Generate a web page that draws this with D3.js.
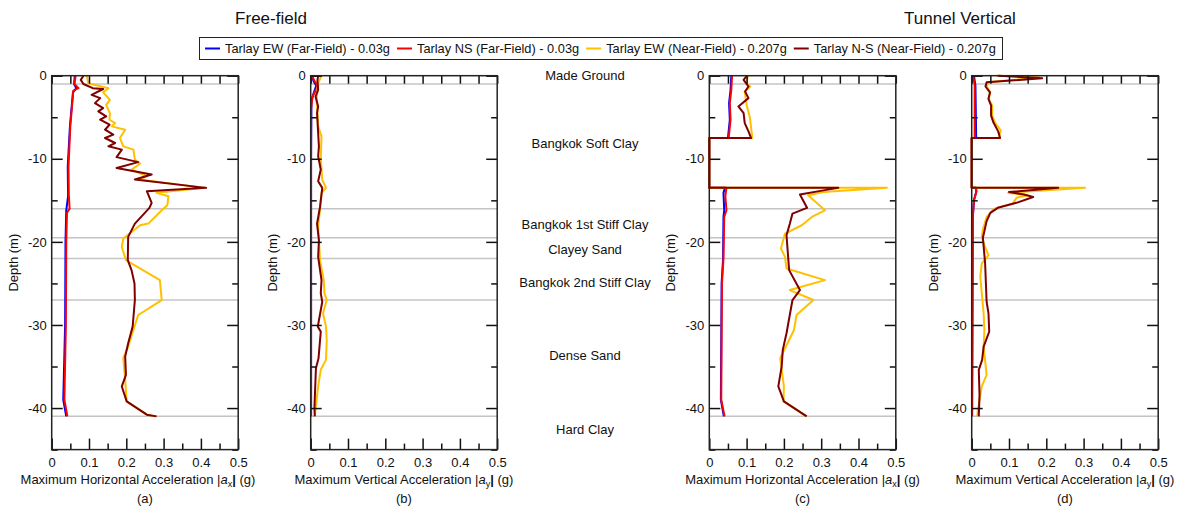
<!DOCTYPE html>
<html>
<head>
<meta charset="utf-8">
<script src="https://cdn.jsdelivr.net/npm/d3@7"></script>
<style>
  body { margin: 0; background: #fff; }
  text { font-family: "Liberation Sans", Arial, sans-serif; fill: #111; }
</style>
</head>
<body>
<svg id="chart"></svg>
<script>
const width = 1184, height = 510;

// series labels and colours (legend order)
const seriesNames = [
    "Tarlay EW (Far-Field) - 0.03g",
    "Tarlay NS (Far-Field) - 0.03g",
    "Tarlay EW (Near-Field) - 0.207g",
    "Tarlay N-S (Near-Field) - 0.207g"
];
const seriesColors = ["#0000ff", "#ff0000", "#ffc000", "#7f0000"];

// profiles: [depth (m), max acceleration (g)]
// (a) free-field, horizontal
const aEWfar = [[0,0.062],[1.0,0.060],[1.5,0.066],[2,0.057],[6,0.049],[11,0.043],[14.5,0.044],[16.2,0.039],[20,0.037],[30,0.036],[39,0.031],[41,0.039]];
const aNSfar = [[0,0.064],[1.0,0.061],[1.5,0.072],[1.8,0.058],[6,0.050],[11,0.045],[14.5,0.046],[16,0.048],[16.5,0.041],[20,0.039],[30,0.038],[39,0.034],[41,0.042]];
const aEWnear = [[0,0.094],[0.9,0.098],[1.5,0.152],[2,0.138],[2.9,0.156],[3.5,0.146],[4.5,0.156],[5.3,0.155],[5.7,0.17],[6.1,0.161],[6.5,0.197],[7.5,0.183],[8.5,0.192],[8.9,0.219],[10.1,0.223],[10.6,0.237],[11.3,0.214],[12.1,0.255],[12.5,0.235],[13.5,0.41],[14.1,0.281],[14.5,0.313],[15.6,0.31],[16.2,0.295],[17.8,0.259],[18,0.237],[19.6,0.192],[20.6,0.188],[22.2,0.199],[24.6,0.29],[27,0.295],[28.8,0.232],[30.6,0.219],[32.6,0.205],[34,0.192],[36.6,0.197],[39.2,0.201],[40.8,0.255],[41,0.281]];
const aNSnear = [[0,0.085],[0.5,0.078],[1.0,0.085],[1.5,0.11],[1.6,0.138],[2.3,0.107],[2.7,0.13],[3.3,0.116],[3.9,0.138],[4.3,0.125],[4.9,0.146],[5.3,0.13],[5.9,0.155],[6.5,0.143],[7.1,0.165],[7.5,0.143],[8.1,0.17],[8.5,0.152],[8.9,0.188],[9.8,0.174],[10.4,0.232],[11.1,0.174],[11.9,0.268],[12.5,0.223],[13.5,0.414],[13.9,0.255],[15.3,0.268],[15.9,0.262],[17.8,0.223],[19.4,0.205],[22.2,0.204],[23.4,0.214],[25,0.222],[27,0.223],[30.2,0.217],[32.2,0.205],[33.8,0.197],[36,0.199],[37.4,0.188],[39.2,0.201],[40.8,0.255],[41,0.281]];

// (b) free-field, vertical
const bEWfar = [[0,0.003],[0.7,0.008],[1.2,0.015],[2.1,0.008],[3,0.002],[10,0.001],[41,0.001]];
const bNSfar = [[0,0.003],[0.7,0.011],[1.2,0.02],[2.5,0.005],[4,0.001],[41,0.001]];
const bEWnear = [[0,0.029],[1,0.019],[2.9,0.016],[6.1,0.02],[7.3,0.029],[10.1,0.027],[12.5,0.031],[13.5,0.041],[14.1,0.029],[16.1,0.025],[18.1,0.02],[22.2,0.025],[24.6,0.035],[26.2,0.037],[27,0.043],[28.6,0.033],[30.2,0.041],[31.8,0.043],[34.2,0.041],[35.4,0.027],[37.4,0.02],[41,0.011]];
const bNSnear = [[0,0.02],[0.6,0.018],[1.7,0.02],[2.5,0.013],[3.7,0.02],[4.5,0.017],[6.1,0.019],[8.5,0.022],[9.7,0.02],[11.3,0.027],[12.7,0.02],[13.5,0.031],[15.8,0.025],[17.8,0.017],[19.8,0.022],[21.8,0.02],[24.6,0.029],[26.2,0.027],[27.2,0.031],[30.2,0.019],[30.8,0.027],[34,0.021],[35.2,0.014],[40,0.01],[41,0.011]];

// (c) tunnel, horizontal
const cEWfar = [[0,0.059],[1.7,0.057],[3.3,0.053],[5.3,0.055],[7.5,0.05],[7.5,0],[13.5,0],[13.5,0.042],[14.1,0.038],[16.2,0.04],[17,0.038],[22,0.037],[25,0.033],[39,0.031],[41,0.039]];
const cNSfar = [[0,0.061],[1.7,0.059],[3.3,0.055],[5.3,0.057],[7.5,0.052],[7.5,0],[13.5,0],[13.5,0.046],[14.5,0.043],[16.2,0.046],[17,0.04],[22,0.038],[25,0.034],[39,0.032],[41,0.041]];
const cEWnear = [[0,0.103],[1.0,0.1],[1.3,0.11],[1.9,0.095],[3.5,0.1],[5.1,0.109],[7.4,0.115],[7.5,0.115],[7.5,0],[13.5,0],[13.5,0.476],[14,0.306],[14.4,0.265],[16.2,0.31],[17,0.275],[18,0.248],[19,0.203],[20.8,0.192],[21.8,0.203],[23.2,0.207],[24.6,0.31],[25.8,0.216],[27,0.279],[28.8,0.234],[30.6,0.227],[34,0.19],[37.4,0.2],[39.2,0.199],[41,0.261]];
const cNSnear = [[0,0.101],[0.5,0.092],[1.3,0.105],[1.9,0.096],[2.7,0.105],[3.7,0.078],[4.5,0.092],[5.7,0.095],[6.7,0.105],[7.5,0.112],[7.5,0],[13.5,0],[13.5,0.346],[13.8,0.306],[14.3,0.243],[15.9,0.262],[16.6,0.223],[17.8,0.216],[19.2,0.207],[22.2,0.212],[23.4,0.214],[25.8,0.243],[27,0.223],[31,0.207],[33,0.197],[35,0.194],[37.4,0.185],[39.2,0.2],[41,0.261]];

// (d) tunnel, vertical
const dEWfar = [[0,0.006],[1.2,0.01],[7.5,0.012],[7.5,0],[13.5,0],[13.5,0.012],[14,0.012],[15,0.006],[17,0.003],[41,0.001]];
const dNSfar = [[0,0.004],[1.2,0.008],[7.5,0.008],[7.5,0],[13.5,0],[13.5,0.01],[13.9,0.013],[15,0.006],[17,0.003],[41,0.001]];
const dEWnear = [[0,0.067],[0.2,0.18],[0.8,0.045],[1.3,0.04],[2,0.05],[2.8,0.045],[3.6,0.055],[4.8,0.055],[5.6,0.062],[6.6,0.078],[7.2,0.074],[7.5,0.074],[7.5,0],[13.5,0],[13.5,0.304],[14.1,0.098],[14.4,0.15],[14.7,0.12],[15.4,0.11],[16,0.06],[17,0.04],[18.5,0.03],[19.4,0.027],[20.5,0.035],[21.6,0.045],[22.6,0.027],[24.2,0.023],[28.6,0.032],[30.6,0.034],[32.6,0.032],[36,0.04],[37.4,0.027],[40.4,0.016],[41,0.015]];
const dNSnear = [[0,0.071],[0.3,0.189],[0.8,0.04],[1.3,0.037],[2,0.049],[2.8,0.045],[3.6,0.052],[4.8,0.052],[5.6,0.058],[6.7,0.071],[7.5,0.076],[7.5,0],[13.5,0],[13.5,0.232],[14.0,0.10],[14.3,0.14],[14.6,0.165],[15.3,0.12],[15.9,0.07],[16.5,0.05],[17.5,0.04],[18.5,0.035],[19.5,0.03],[22.6,0.036],[27.2,0.04],[28.6,0.045],[30.8,0.047],[32.6,0.032],[34.2,0.028],[35.4,0.019],[38.4,0.021],[41,0.019]];

// soil layers
const layerBounds = [1, 16, 19.5, 22, 27, 41];
const layerNames = ["Made Ground", "Bangkok Soft Clay", "Bangkok 1st Stiff Clay", "Clayey Sand", "Bangkok 2nd Stiff Clay", "Dense Sand", "Hard Clay"];
const layerLabelDepth = [0, 8.2, 17.9, 20.9, 24.9, 33.7, 42.6];

// axes
const xMajor = [0, 0.1, 0.2, 0.3, 0.4, 0.5];
const xMinor = [0.05, 0.15, 0.25, 0.35, 0.45];
const yMajor = [0, -10, -20, -30, -40];
const yMinor = [-5, -15, -25, -35, -45];

const panels = [
    { left: 51.7, series: [aEWfar, aNSfar, aEWnear, aNSnear], label: "Horizontal", sub: "x", tag: "(a)", labelShift: -7 },
    { left: 310.7, series: [bEWfar, bNSfar, bEWnear, bNSnear], label: "Vertical", sub: "y", tag: "(b)", labelShift: 0 },
    { left: 709.3, series: [cEWfar, cNSfar, cEWnear, cNSnear], label: "Horizontal", sub: "x", tag: "(c)", labelShift: 0 },
    { left: 971.7, series: [dEWfar, dNSfar, dEWnear, dNSnear], label: "Vertical", sub: "y", tag: "(d)", labelShift: 0 }
];
const panelW = 186.5, plotTop = 75.7, plotBottom = 449.6;

const svg = d3.select("svg#chart")
    .attr("width", width)
    .attr("height", height);

const y = d3.scaleLinear().domain([-45, 0]).range([plotBottom, plotTop]);

panels.forEach(p => {
    const x = d3.scaleLinear().domain([0, 0.5]).range([p.left, p.left + panelW]);
    const g = svg.append("g");

    // layer boundaries
    g.selectAll("line.layer")
        .data(layerBounds)
        .enter()
        .append("line")
        .attr("x1", x(0)).attr("x2", x(0.5))
        .attr("y1", d => y(-d)).attr("y2", d => y(-d))
        .attr("stroke", "#c4c4c4")
        .attr("stroke-width", 1.5);

    // profiles
    const line = d3.line().x(d => x(d[1])).y(d => y(-d[0]));
    p.series.forEach((s, i) => {
        g.append("path")
            .attr("d", line(s))
            .attr("fill", "none")
            .attr("stroke", seriesColors[i])
            .attr("stroke-width", 2)
            .attr("stroke-linejoin", "round");
    });

    // ticks, all pointing inward
    const axes = [
        [d3.axisBottom(x).tickValues(xMajor).tickSizeInner(-11).tickPadding(8).tickFormat(d => d === 0 ? "0" : d3.format(".1f")(d)), `translate(0,${plotBottom})`],
        [d3.axisBottom(x).tickValues(xMinor).tickSizeInner(-6).tickFormat(""), `translate(0,${plotBottom})`],
        [d3.axisTop(x).tickValues(xMajor.concat(xMinor)).tickSizeInner(-8).tickFormat(""), `translate(0,${plotTop})`],
        [d3.axisLeft(y).tickValues(yMajor).tickSizeInner(-11).tickPadding(5).tickFormat(d => String(d)), `translate(${x(0)},0)`],
        [d3.axisLeft(y).tickValues(yMinor).tickSizeInner(-6).tickFormat(""), `translate(${x(0)},0)`],
        [d3.axisRight(y).tickValues(yMajor).tickSizeInner(-11).tickFormat(""), `translate(${x(0.5)},0)`],
        [d3.axisRight(y).tickValues(yMinor).tickSizeInner(-6).tickFormat(""), `translate(${x(0.5)},0)`]
    ];
    axes.forEach(([ax, tr]) => {
        const a = g.append("g").attr("transform", tr).call(ax.tickSizeOuter(0));
        a.select(".domain").remove();
        a.selectAll("line").attr("stroke", "#111").attr("stroke-width", 1.5);
        a.selectAll("text").attr("font-size", 13).attr("fill", "#111")
            .style("font-family", "'Liberation Sans', Arial, sans-serif");
    });

    // frame
    g.append("rect")
        .attr("x", x(0)).attr("y", plotTop)
        .attr("width", panelW).attr("height", plotBottom - plotTop)
        .attr("fill", "none")
        .attr("stroke", "#222")
        .attr("stroke-width", 1.5);

    // axis titles
    const xl = g.append("text")
        .attr("x", (x(0) + x(0.5)) / 2 + p.labelShift)
        .attr("y", 484)
        .attr("text-anchor", "middle")
        .attr("font-size", 13);
    xl.append("tspan").text(`Maximum ${p.label} Acceleration |`);
    xl.append("tspan").attr("font-style", "italic").text("a");
    xl.append("tspan").attr("font-size", 9).attr("dy", 3).text(p.sub);
    xl.append("tspan").attr("dy", -3).attr("font-weight", "bold").text("|");
    xl.append("tspan").text(" (g)");

    g.append("text")
        .attr("x", (x(0) + x(0.5)) / 2)
        .attr("y", 503)
        .attr("text-anchor", "middle")
        .attr("font-size", 13)
        .text(p.tag);

    g.append("text")
        .attr("transform", `translate(${x(0) - 34},${(plotTop + plotBottom) / 2}) rotate(-90)`)
        .attr("text-anchor", "middle")
        .attr("font-size", 13)
        .text("Depth (m)");
});

// soil layer names between (b) and (c)
svg.selectAll("text.layername")
    .data(layerNames)
    .enter()
    .append("text")
    .attr("x", 585)
    .attr("y", (d, i) => y(-layerLabelDepth[i]) + 4.5)
    .attr("text-anchor", "middle")
    .attr("font-size", 13)
    .text(d => d);

// titles
svg.append("text").attr("x", 271).attr("y", 24).attr("text-anchor", "middle").attr("font-size", 17).text("Free-field");
svg.append("text").attr("x", 960).attr("y", 24).attr("text-anchor", "middle").attr("font-size", 17).text("Tunnel Vertical");

// legend
const legend = svg.append("g");
legend.append("rect")
    .attr("x", 199.5).attr("y", 37.5)
    .attr("width", 803).attr("height", 22)
    .attr("fill", "#fff")
    .attr("stroke", "#222")
    .attr("stroke-width", 1);
let lx = 205;
seriesNames.forEach((name, i) => {
    legend.append("line")
        .attr("x1", lx).attr("x2", lx + 15)
        .attr("y1", 48.5).attr("y2", 48.5)
        .attr("stroke", seriesColors[i])
        .attr("stroke-width", 2);
    const t = legend.append("text")
        .attr("x", lx + 20).attr("y", 53)
        .attr("font-size", 12.8)
        .text(name);
    lx += 20 + t.node().getComputedTextLength() + 7;
});
</script>
</body>
</html>
